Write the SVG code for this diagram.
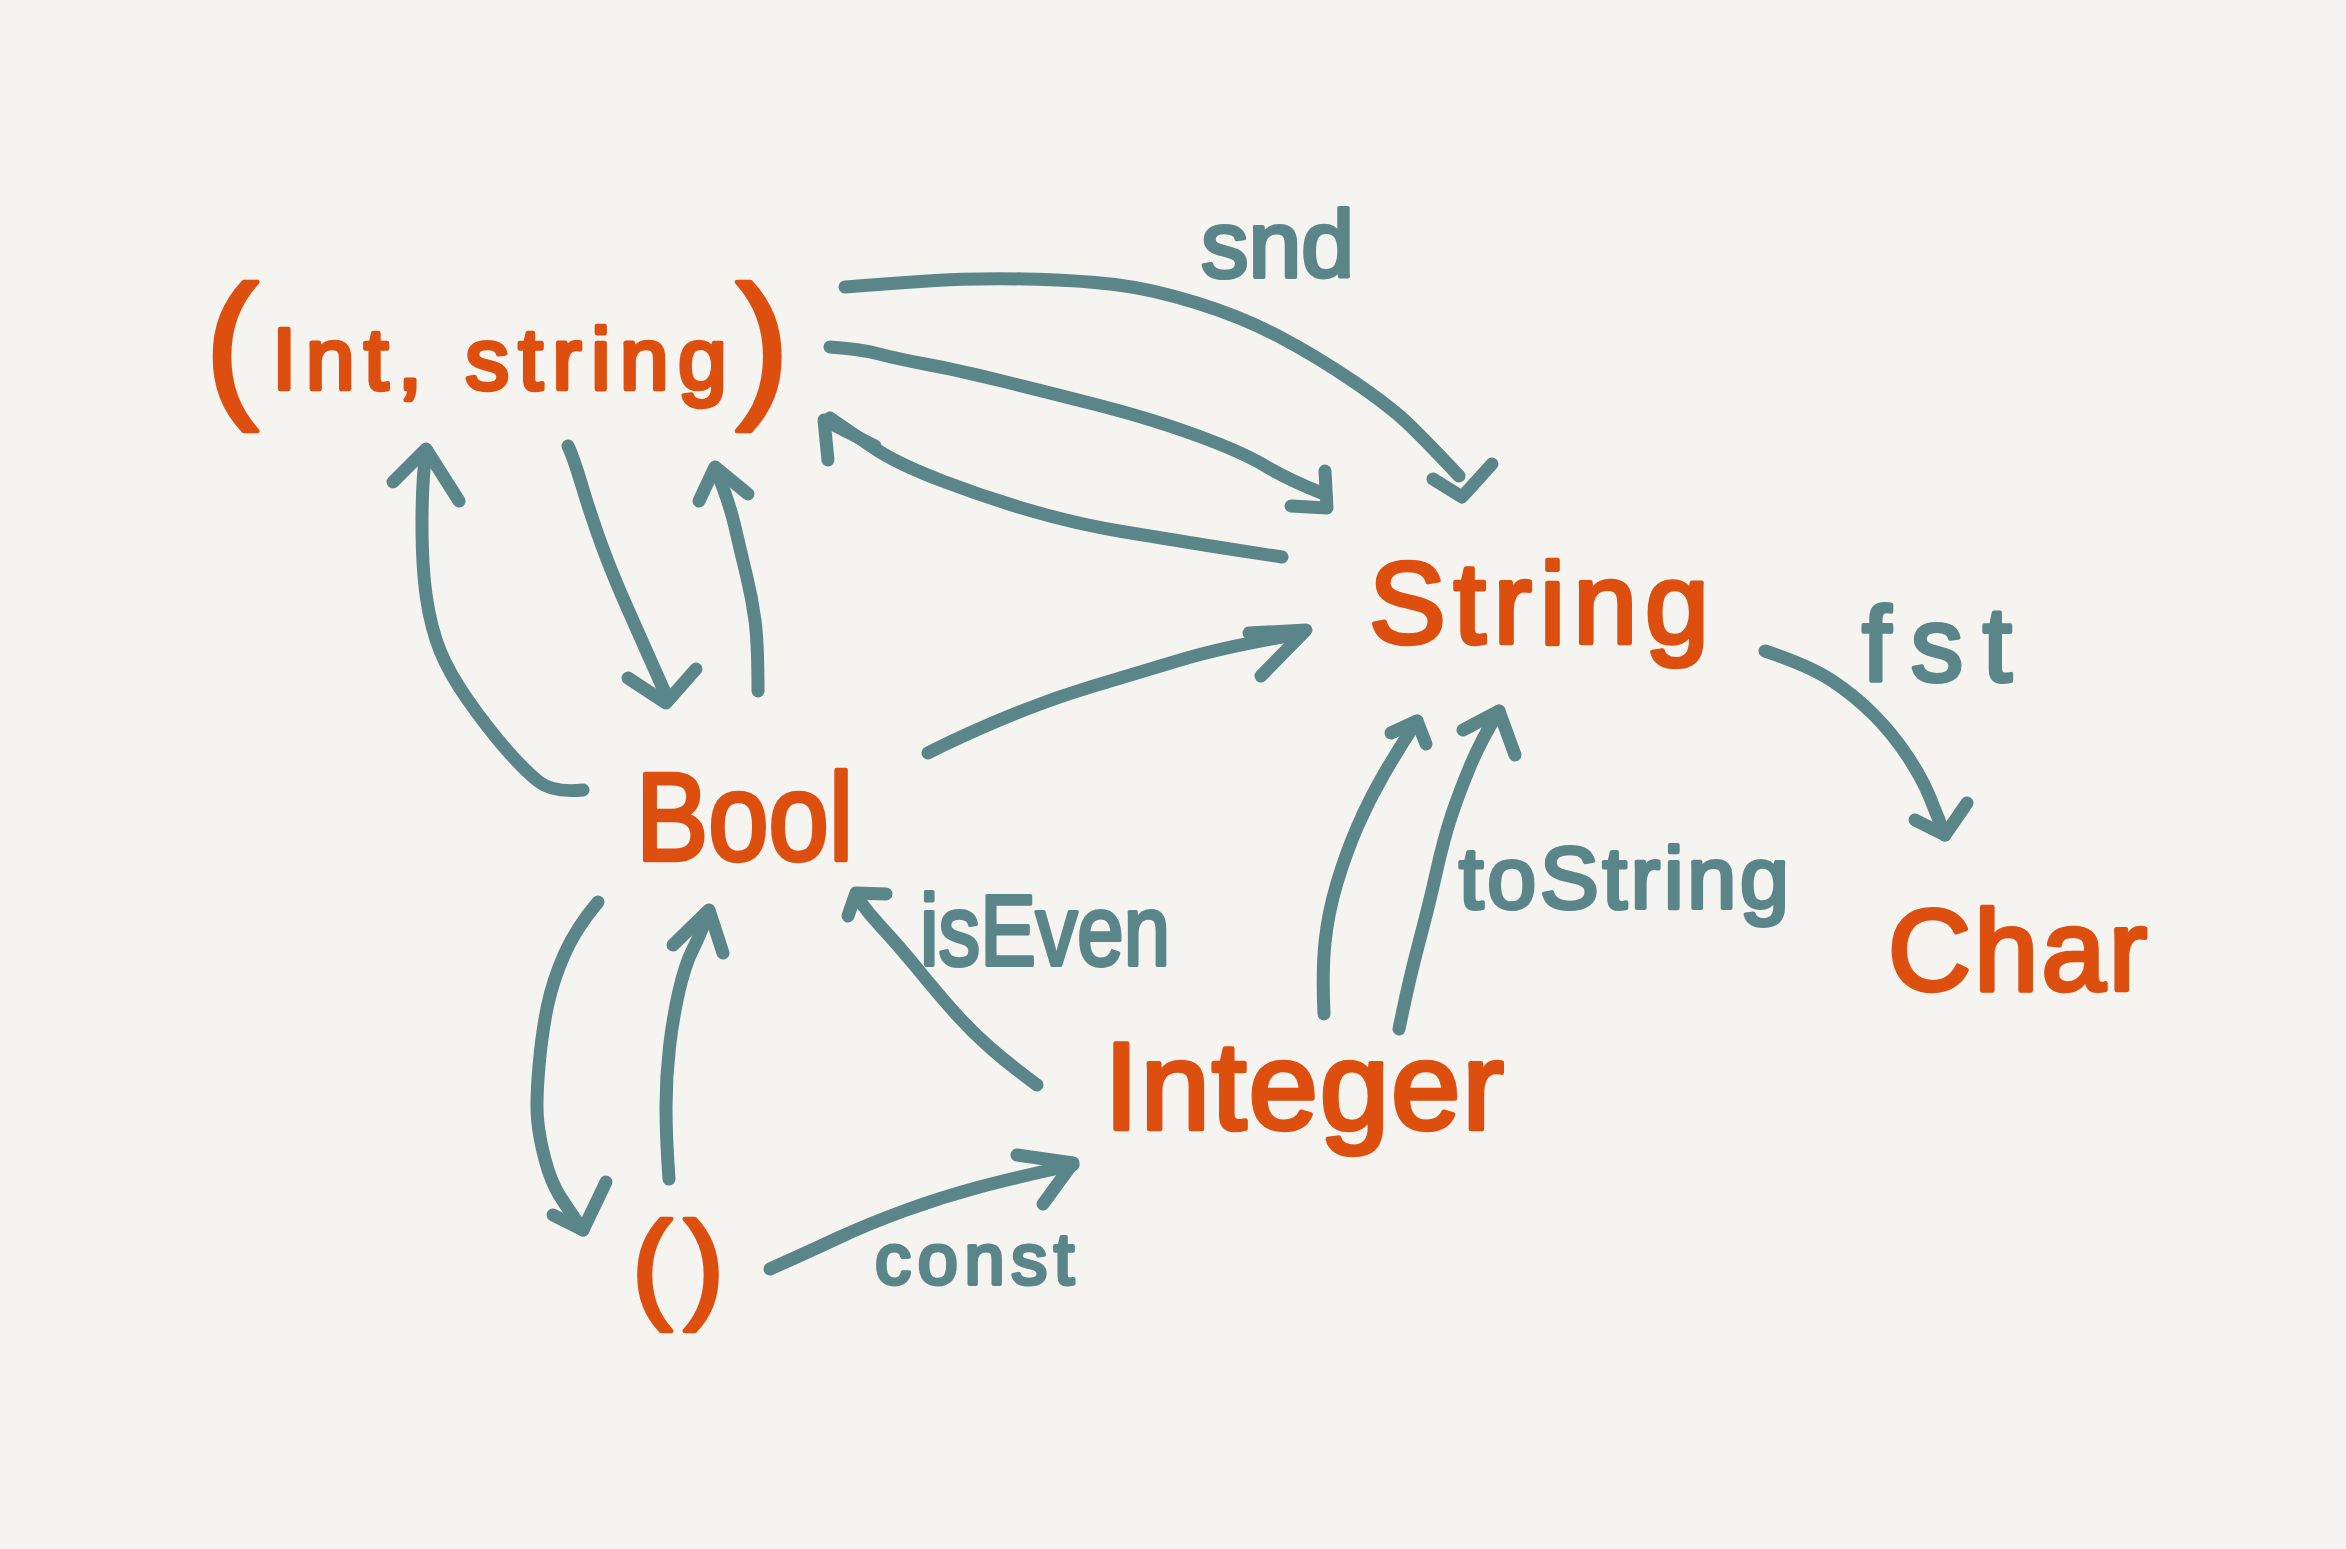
<svg xmlns="http://www.w3.org/2000/svg" width="2346" height="1549" viewBox="0 0 2346 1549">
<style>
.bg{fill:#F6F4F0}
.node{font-family:"Liberation Sans",Arial,sans-serif;fill:#DD4F0F;stroke:#DD4F0F;stroke-width:4.5;stroke-linejoin:round}
.lbl{font-family:"Liberation Sans",Arial,sans-serif;fill:#5A8589;stroke:#5A8589;stroke-width:4;stroke-linejoin:round}
.edge{fill:none;stroke:#5A8589;stroke-width:13;stroke-linecap:round;stroke-linejoin:round}
</style>
<rect class="bg" x="0" y="0" width="2346" height="1549"/>
<g id="connectors">
  <g id="e-snd">
    <path class="edge" d="M845,287 Q883,284 927.5,281 T1024.5,279 T1114.5,284.5 T1197,303 T1279,336.5 T1353.5,381.5 T1410,425.5 T1459,476"/>
    <polyline class="edge" points="1433,479 1462,497 1492,464"/>
  </g>
  <g id="e-pair-string">
    <path class="edge" d="M830,347 Q860,349 879,354 T927.5,364.5 T1002,381 T1099.5,405.5 T1197,435.5 T1264.5,465.5 T1324,494"/>
    <polyline class="edge" points="1325,471 1327,508 1291,506"/>
  </g>
  <g id="e-string-pair">
    <path class="edge" d="M1282,557 Q1242,551 1204.5,545 T1122,531.5 T1032,511 T942.5,481 T875.5,449 T830,418"/>
    <polyline class="edge" points="828,460 824,420 875,446"/>
  </g>
  <g id="e-pair-bool">
    <path class="edge" d="M568,446 Q573,456 582,486 T602,546 T628,609.5 T666,695"/>
    <polyline class="edge" points="628,678 666,703 696,669"/>
  </g>
  <g id="e-bool-pair">
    <path class="edge" d="M758,691 Q758,643 755,620.5 T746.5,575.5 T735,527 T716,470"/>
    <polyline class="edge" points="699,501 715,467 748,494"/>
  </g>
  <g id="e-bool-pair-loop">
    <path class="edge" d="M583,790 Q553,793 538.5,781.5 T505,748 T467.5,699.5 T440,650.5 T426.5,598 T422,523.5 T426,452"/>
    <polyline class="edge" points="393,482 426,449 459,501"/>
  </g>
  <g id="e-bool-string">
    <path class="edge" d="M928,753 Q957,738 1002,719 T1092,686.5 T1182,659.5 T1300,634"/>
    <polyline class="edge" points="1249,633 1306,630 1261,676"/>
  </g>
  <g id="e-integer-string-1">
    <path class="edge" d="M1324,1014 Q1322,972 1325,942.5 T1337,883 T1357.5,826.5 T1384,774 T1417,721"/>
    <polyline class="edge" points="1391,733 1417,721 1426,744"/>
  </g>
  <g id="e-integer-string-2">
    <path class="edge" d="M1399,1029 Q1409,980 1419,942.5 T1436.5,871.5 T1451.5,815.5 T1470,766.5 T1499,711"/>
    <polyline class="edge" points="1463,730 1499,711 1515,755"/>
  </g>
  <g id="e-string-char">
    <path class="edge" d="M1765,651 Q1810,666 1832.5,681 T1873.5,714.5 T1907,755.5 T1929.5,796.5 T1945,835"/>
    <polyline class="edge" points="1915,820 1945,835 1967,803"/>
  </g>
  <g id="e-integer-bool">
    <path class="edge" d="M1037,1085 Q1010,1065 991,1048.5 T955.5,1013.5 T918.5,970 T883,929 T856,896"/>
    <polyline class="edge" points="848,916 856,893 886,894"/>
  </g>
  <g id="e-bool-unit">
    <path class="edge" d="M598,902 Q576,928 564.5,954 T547.5,1006 T539,1066 T537.5,1118.5 T545,1159.5 T559.5,1195.5 T583,1230"/>
    <polyline class="edge" points="553,1215 583,1230 606,1182"/>
  </g>
  <g id="e-unit-bool">
    <path class="edge" d="M669,1179 Q666,1137 666,1107 T669.5,1047 T679,991 T692.5,950 T709,912"/>
    <polyline class="edge" points="673,945 709,910 723,953"/>
  </g>
  <g id="e-unit-integer">
    <path class="edge" d="M770,1269 Q808,1252 838,1238 T905,1210.5 T979.5,1187 T1073,1165"/>
    <polyline class="edge" points="1017,1155 1073,1163 1043,1204"/>
  </g>
</g>
<g id="labels">
  <text class="lbl" x="1201" y="277" font-size="95" textLength="153" lengthAdjust="spacing">snd</text>
  <text class="lbl" x="1862" y="681" font-size="105" textLength="150" lengthAdjust="spacing">fst</text>
  <text class="lbl" x="920" y="965" font-size="100" textLength="250" lengthAdjust="spacingAndGlyphs">isEven</text>
  <text class="lbl" x="1459" y="908" font-size="88" textLength="330" lengthAdjust="spacing">toString</text>
  <text class="lbl" x="875" y="1284" font-size="72" textLength="199" lengthAdjust="spacing">const</text>
</g>
<g id="node-pair">
  <text class="node" y="398"><tspan x="205" font-size="160">(</tspan><tspan x="272" y="389" font-size="88" textLength="455" lengthAdjust="spacing">Int, string</tspan><tspan x="736" y="398" font-size="160">)</tspan></text>
</g>
<g id="node-string">
  <text class="node" x="1369" y="643" font-size="115" textLength="340" lengthAdjust="spacing">String</text>
</g>
<g id="node-bool">
  <text class="node" x="636" y="860" font-size="125" textLength="217" lengthAdjust="spacingAndGlyphs">Bool</text>
</g>
<g id="node-integer">
  <text class="node" x="1104" y="1129" font-size="125" textLength="400" lengthAdjust="spacing">Integer</text>
</g>
<g id="node-char">
  <text class="node" x="1888" y="990" font-size="115" textLength="259" lengthAdjust="spacing">Char</text>
</g>
<g id="node-unit">
  <text class="node" x="632" y="1306" font-size="120" textLength="92" lengthAdjust="spacing">()</text>
</g>
</svg>
